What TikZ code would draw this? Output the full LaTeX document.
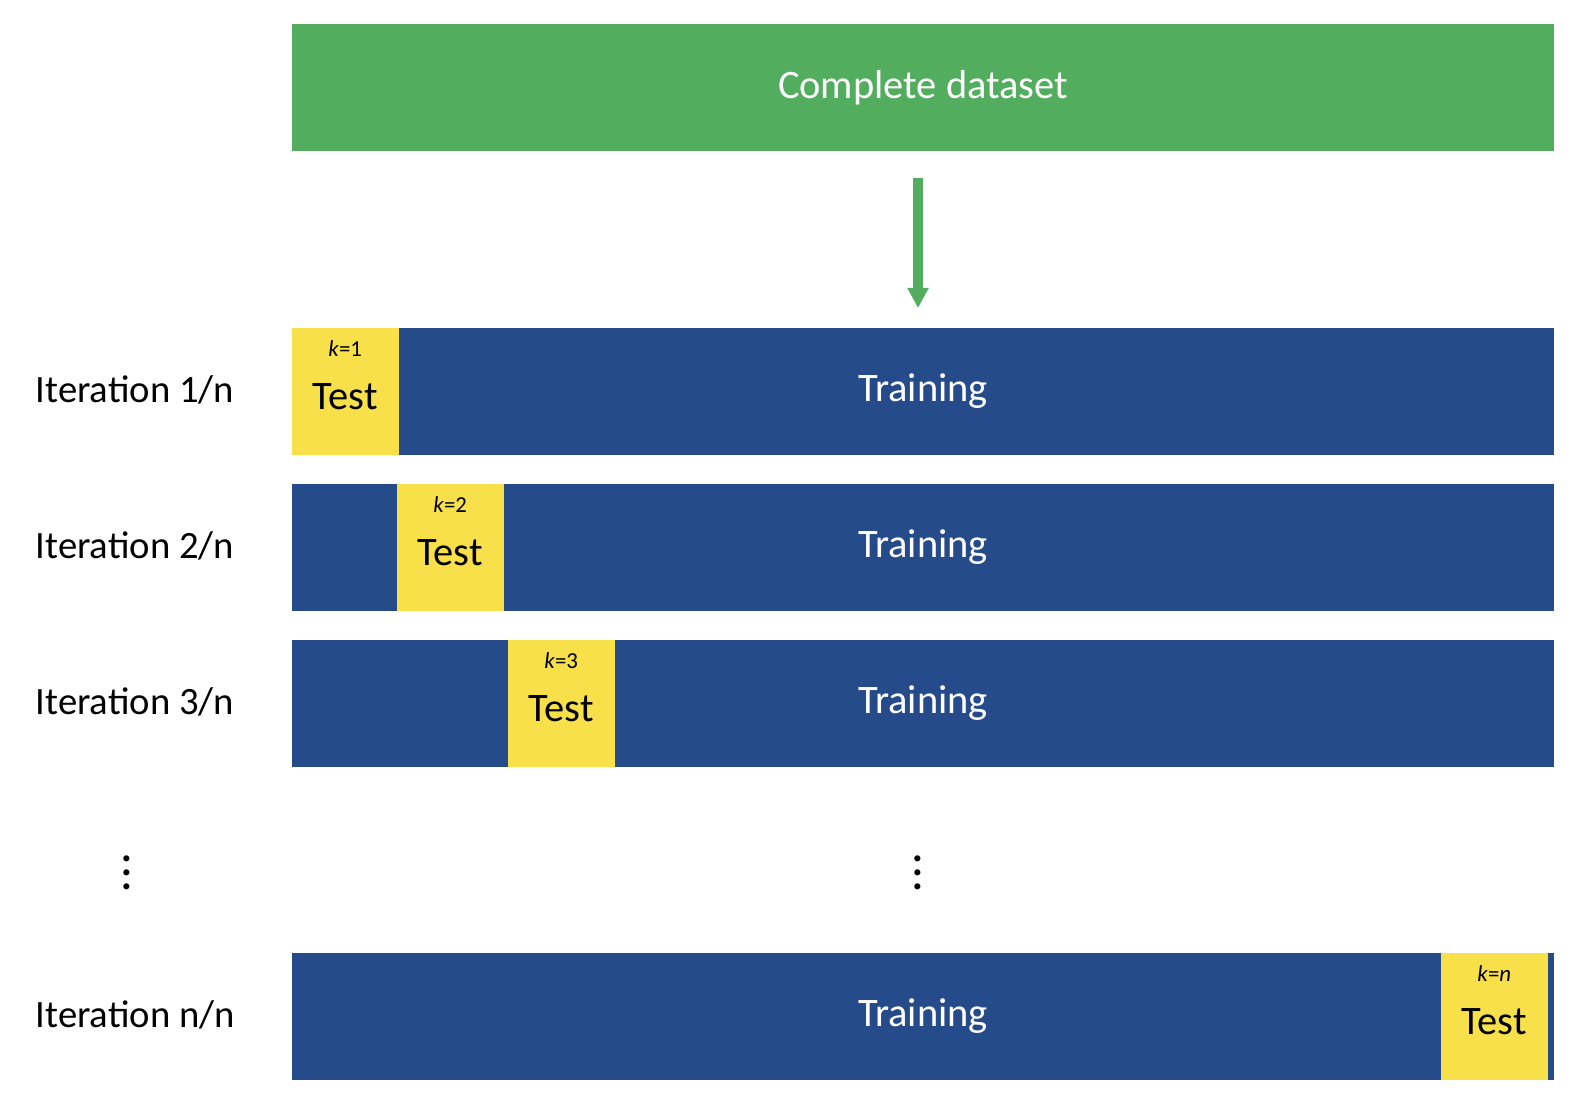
\documentclass[tikz,border=0pt]{standalone}
\usepackage{fontspec}
\setmainfont{Carlito}
\usetikzlibrary{arrows.meta}
\definecolor{dsgreen}{HTML}{52AE5E}
\definecolor{trblue}{HTML}{264B8A}
\definecolor{tsyellow}{HTML}{F8E04B}
\begin{document}
\begin{tikzpicture}[x=0.01cm, y=-0.01cm,
    every node/.style = {inner sep=0pt, font=\fontsize{11.5}{14}\selectfont},
    block/.style = {anchor=north west, minimum height=1.27cm},
    train/.style = {block, fill=trblue},
    test/.style = {block, fill=tsyellow, minimum width=1.07cm},
    iterlabel/.style = {anchor=west, font=\fontsize{11}{14}\selectfont},
    kval/.style = {font=\fontsize{6.5}{8}\selectfont}
  ]
  \useasboundingbox (0,0) rectangle (1576,1110);
  % dataset
  \node[block, fill=dsgreen, minimum width=12.62cm] (data) at (291,23) {};
  \node[text=white] at (data.center) {Complete dataset};
  \coordinate (arrtop) at (918,178);
  \coordinate (arrbot) at (918,308);
  \draw[dsgreen, line width=3pt, -{Triangle[length=2mm,width=2mm]}] (arrtop) -- (arrbot);
  % iterations
  \foreach \row/\y/\tx/\k in {1/327/291/1, 2/483/396/2, 3/639/507/3} {
    \node[train, minimum width=12.62cm] (train\row) at (291,\y) {};
    \node[test] (test\row) at (\tx,\y) {};
    \node[text=white] at (train\row.center) {Training};
    \node at ([yshift=-0.05cm]test\row.center) {Test};
    \node[kval] at ([yshift=-0.22cm]test\row.north) {\textit{k}=\k};
    \node[iterlabel] at (35,\y+63) {Iteration \row/n};
  }
  \node[train, minimum width=12.62cm] (trainn) at (291,952) {};
  \node[test] (testn) at (1440,952) {};
  \node[text=white] at (trainn.center) {Training};
  \node at ([yshift=-0.05cm]testn.center) {Test};
  \node[kval] at ([yshift=-0.22cm]testn.north) {\textit{k}=\textit{n}};
  \node[iterlabel] at (35,1015) {Iteration n/n};
  % dots
  \node[font=\Large] (ldots) at (127,862) {$\vdots$};
  \node[font=\Large] (rdots) at (918,862) {$\vdots$};
\end{tikzpicture}
\end{document}
